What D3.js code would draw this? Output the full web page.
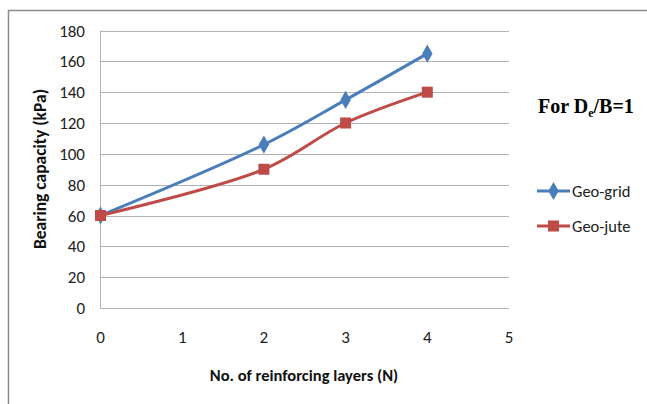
<!DOCTYPE html>
<html><head><meta charset="utf-8">
<script src="https://cdn.jsdelivr.net/npm/d3@7"></script>
<style>
body{margin:0;background:#fff;}
</style></head>
<body><svg id="c" width="647" height="404"></svg>
<script>
const xTicks = [0,1,2,3,4,5];
const yTicks = [0,20,40,60,80,100,120,140,160,180];
const layers = [0,2,3,4];
const geoGrid = [60,106,135,165];
const geoJute = [60,90,120,140];
const seriesNames = ["Geo-grid","Geo-jute"];
const seriesColors = ["#4a7ebb","#be4b48"];
const SANS = "Carlito, Lato, 'Liberation Sans Narrow', sans-serif";

const svg = d3.select("#c");
svg.append("rect").attr("width",647).attr("height",404).attr("fill","#fff");
svg.append("path").attr("d","M8.5,404 V10.5 H647").attr("fill","none").attr("stroke","#8c8c8c").attr("stroke-width",1.5);

const x = d3.scaleLinear().domain([0,5]).range([100.5,509]);
const y = d3.scaleLinear().domain([0,180]).range([308,30.5]);

svg.append("g").selectAll("line").data(yTicks).join("line")
  .attr("x1",x(0)).attr("x2",x(5)).attr("y1",d=>Math.round(y(d))+0.5).attr("y2",d=>Math.round(y(d))+0.5)
  .attr("stroke","#b3b3b3").attr("stroke-width",1);
svg.append("line").attr("x1",x(0)).attr("x2",x(0)).attr("y1",y(180)).attr("y2",y(0)+0.5)
  .attr("stroke","#b3b3b3");

svg.append("g").selectAll("text").data(yTicks).join("text")
  .attr("x",85).attr("y",d=>y(d)+6).attr("text-anchor","end").style("font-family",SANS)
  .attr("font-size",17).attr("fill","#222").text(d=>d);
svg.append("g").selectAll("text").data(xTicks).join("text")
  .attr("x",d=>x(d)).attr("y",343).attr("text-anchor","middle").style("font-family",SANS)
  .attr("font-size",17).attr("fill","#222").text(d=>d);

svg.append("text").attr("x",304).attr("y",381).attr("text-anchor","middle").style("font-family",SANS)
  .attr("font-size",16.5).attr("font-weight","bold").attr("fill","#111")
  .text("No. of reinforcing layers (N)");
svg.append("text").attr("transform","translate(46,169) rotate(-90)").attr("text-anchor","middle").style("font-family",SANS)
  .attr("font-size",17.5).attr("font-weight","bold").attr("fill","#111")
  .text("Bearing capacity (kPa)");

const series = [geoGrid, geoJute];
const line = d3.line().x(d=>x(d[0])).y(d=>y(d[1])).curve(d3.curveCatmullRom.alpha(0.5));
series.forEach((vals,i)=>{
  const pts = layers.map((l,j)=>[l,vals[j]]);
  svg.append("path").attr("d",line(pts)).attr("fill","none")
    .attr("stroke",seriesColors[i]).attr("stroke-width",3).attr("stroke-linejoin","round");
});
const diamond = d3.symbol().type(d3.symbolDiamond).size(95);
function drawMarker(g, i, cx, cy){
  if(i===0){
    g.append("path").attr("d",diamond()).attr("transform",`translate(${cx},${cy})`).attr("fill",seriesColors[0]);
  } else {
    g.append("rect").attr("x",cx-5.5).attr("y",cy-5.5).attr("width",11).attr("height",11).attr("fill",seriesColors[1]);
  }
}
const mg = svg.append("g");
series.forEach((vals,i)=>{
  layers.forEach((l,j)=>drawMarker(mg,i,x(l),y(vals[j])));
});

const ann = svg.append("text").attr("x",538).attr("y",113)
  .style("font-family","'Liberation Serif','Times New Roman',serif").attr("font-size",20)
  .attr("font-weight","bold").attr("fill","#000");
ann.append("tspan").text("For D");
ann.append("tspan").attr("font-size",12).attr("dy",4).text("e");
ann.append("tspan").attr("dy",-4).text("/B=1");

const legY = [191, 226];
seriesNames.forEach((n,i)=>{
  svg.append("line").attr("x1",537).attr("x2",570).attr("y1",legY[i]).attr("y2",legY[i])
    .attr("stroke",seriesColors[i]).attr("stroke-width",3);
  drawMarker(svg,i,553.5,legY[i]);
  svg.append("text").attr("x",572).attr("y",legY[i]+6).style("font-family",SANS)
    .attr("font-size",16.5).attr("fill","#222").text(n);
});
</script></body></html>
